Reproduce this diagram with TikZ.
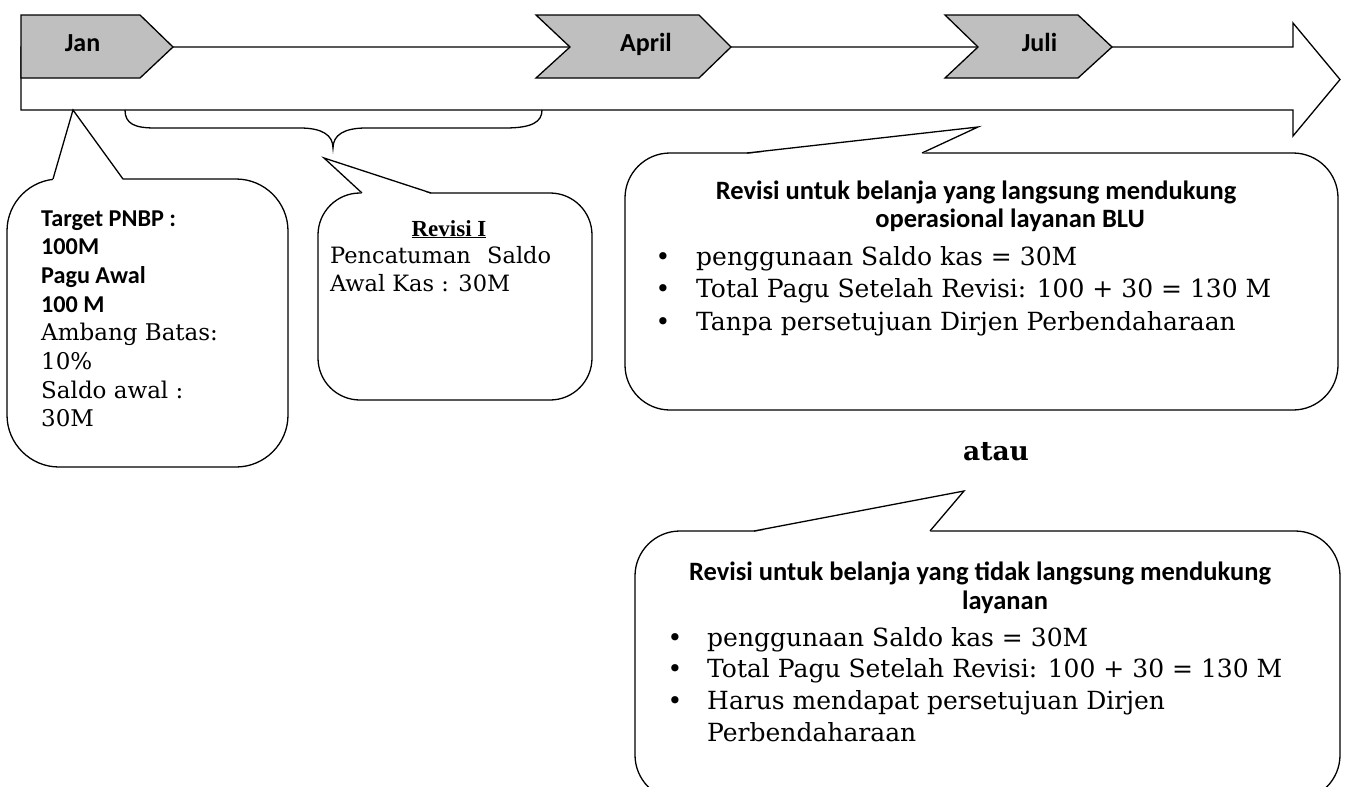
\documentclass[tikz,border=0pt]{standalone}
\usepackage{fontspec}
\setmainfont{DejaVu Serif}
\newfontfamily\calib{Carlito}
\newfontfamily\tnr{Liberation Serif}

\newcommand\monthfont{\calib\bfseries\fontsize{26}{30}\selectfont}
\newcommand\headfont{\calib\bfseries\fontsize{26.5}{31}\selectfont}
\newcommand\smallhead{\calib\bfseries\fontsize{24.2}{28}\selectfont}
\newcommand\smallbody{\fontsize{23}{28}\selectfont}
\newcommand\revbody{\fontsize{22.5}{28}\selectfont}
\newcommand\bodyfont{\fontsize{25}{31}\selectfont}
\newcommand\ataufont{\bfseries\fontsize{26.5}{31}\selectfont}

\tikzset{
  outline/.style={line width=1.3pt, line join=miter},
  tab/.style={outline, fill=black!25},
  bubble/.style={outline, fill=white, rounded corners=#1},
  txt/.style={inner sep=0pt, anchor=base west},
  ctxt/.style={inner sep=0pt, anchor=base},
  month/.style={ctxt, font=\monthfont},
}

\begin{document}
\begin{tikzpicture}[x=1pt, y=-1pt]
\useasboundingbox (0,0) rectangle (1347,787);
\clip (0,0) rectangle (1347,787);

% timeline arrow
\draw[outline, fill=white] (21,47) -- (1293,47) -- (1293,23) -- (1340,79.5)
  -- (1293,136) -- (1293,110) -- (21,110) -- cycle;

% month tabs
\draw[tab] (21,15) -- (140,15) -- (173,47) -- (140,78) -- (21,78) -- cycle;
\draw[tab] (536,15) -- (699,15) -- (731,47) -- (699,78) -- (536,78) -- (570,47) -- cycle;
\draw[tab] (945,15) -- (1078,15) -- (1112,47) -- (1078,78) -- (945,78) -- (978,47) -- cycle;
\node[month] (jan) at (82.5,51) {Jan};
\node[month] (april) at (646,51) {April};
\node[month] (juli) at (1039.5,51) {Juli};

% brace under Jan--April
\draw[line width=1.3pt] (125,110) .. controls (125,124) and (135,128) .. (155,128)
  -- (300,128) .. controls (322,128) and (333,135) .. (333,148)
  .. controls (333,135) and (344,128) .. (366,128)
  -- (505,128) .. controls (532,128) and (542,122) .. (542,110);

% starting values bubble
\draw[bubble=52pt] (7,179) rectangle (288,467);
\fill[white] (53,180) -- (73,110) -- (123,180) -- cycle;
\draw[outline] (53,179) -- (73,110) -- (123,179);
\node[txt, font=\smallhead] (t1) at (41,226) {Target PNBP :};
\node[txt, font=\smallhead] (t2) at (41,254.7) {100M};
\node[txt, font=\smallhead] (t3) at (41,283.4) {Pagu Awal};
\node[txt, font=\smallhead] (t4) at (41,312.1) {100 M};
\node[txt, font=\smallbody] (t5) at (41,340.8) {Ambang Batas:};
\node[txt, font=\smallbody] (t6) at (41,369.5) {10\%};
\node[txt, font=\smallbody] (t7) at (41,398.2) {Saldo awal :};
\node[txt, font=\smallbody] (t8) at (41,426.9) {30M};

% first revision bubble
\draw[bubble=42pt] (318,193) rectangle (592,400);
\fill[white] (362,194) -- (324,158) -- (431,194) -- cycle;
\draw[outline] (362,193) -- (324,158) -- (431,193);
\node[ctxt, font={\tnr\bfseries\fontsize{23}{28}\selectfont}] (r1) at (449,236) {\underline{Revisi I}};
\node[txt, font=\revbody] (r2) at (330,263.5) {\makebox[221pt][s]{Pencatuman Saldo}};
\node[txt, font=\revbody] (r3) at (330,291) {Awal Kas : 30M};

% revision supporting BLU operations
\draw[bubble=45pt] (625,153) rectangle (1338,410);
\fill[white] (747,154) -- (978,127) -- (922,154) -- cycle;
\draw[outline] (747,153) -- (978,127) -- (922,153);
\node[ctxt, font=\headfont] (a0) at (976,199) {Revisi untuk belanja yang langsung mendukung};
\node[ctxt, font=\headfont] (a1) at (1010,227) {operasional layanan BLU};
\node[ctxt, font=\bodyfont] (ab1) at (663,265) {•};
\node[ctxt, font=\bodyfont] (ab2) at (663,297.5) {•};
\node[ctxt, font=\bodyfont] (ab3) at (663,330) {•};
\node[txt, font=\bodyfont] (a2) at (696,265) {penggunaan Saldo kas = 30M};
\node[txt, font=\bodyfont] (a3) at (696,297.5) {Total Pagu Setelah Revisi: 100 + 30 = 130 M};
\node[txt, font=\bodyfont] (a4) at (696,330) {Tanpa persetujuan Dirjen Perbendaharaan};

% alternative
\node[ctxt, font=\ataufont] (atau) at (996,460) {atau};

% revision not directly supporting services
\draw[bubble=45pt] (635,531) rectangle (1340,800);
\fill[white] (754,532) -- (964,491) -- (930,532) -- cycle;
\draw[outline] (754,531) -- (964,491) -- (930,531);
\node[ctxt, font=\headfont] (b0) at (980,580) {Revisi untuk belanja yang tidak langsung mendukung};
\node[ctxt, font=\headfont] (b1) at (1005,609) {layanan};
\node[ctxt, font=\bodyfont] (bb1) at (675,646) {•};
\node[ctxt, font=\bodyfont] (bb2) at (675,677) {•};
\node[ctxt, font=\bodyfont] (bb3) at (675,709) {•};
\node[txt, font=\bodyfont] (b2) at (707,646) {penggunaan Saldo kas = 30M};
\node[txt, font=\bodyfont] (b3) at (707,677) {Total Pagu Setelah Revisi: 100 + 30 = 130 M};
\node[txt, font=\bodyfont] (b4) at (707,709) {Harus mendapat persetujuan Dirjen};
\node[txt, font=\bodyfont] (b5) at (707,741) {Perbendaharaan};
\end{tikzpicture}
\end{document}
